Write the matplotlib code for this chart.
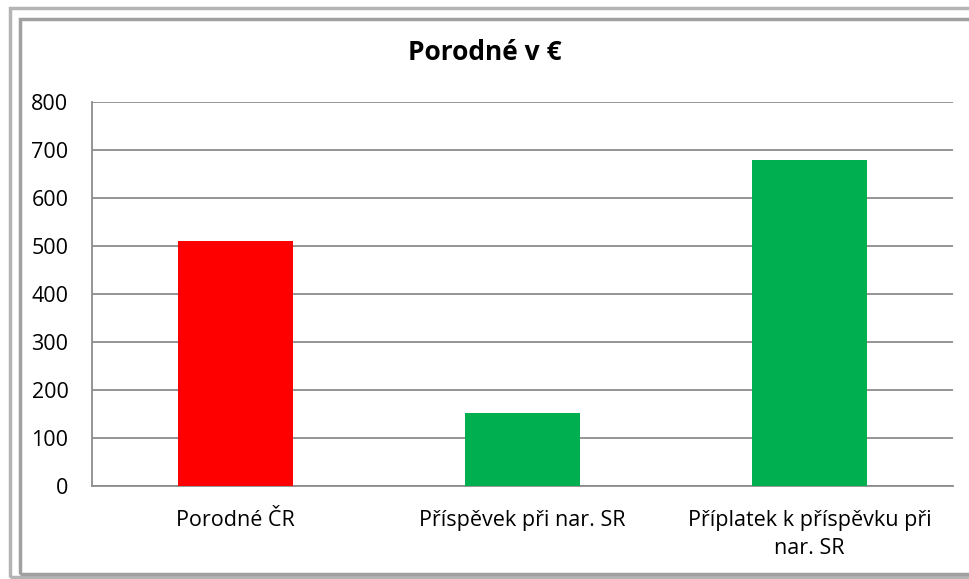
import matplotlib
matplotlib.use("Agg")
import matplotlib.pyplot as plt
from matplotlib.patches import Rectangle

categories = ["Porodné ČR", "Příspěvek při nar. SR", "Příplatek k příspěvku při\nnar. SR"]
values = [510, 152, 679]
colors = ["#ff0000", "#00b050", "#00b050"]
yticks = [0, 100, 200, 300, 400, 500, 600, 700, 800]

W, H = 970, 579
fig = plt.figure(figsize=(W / 100, H / 100), dpi=100)
plt.rcParams['font.family'] = ['Open Sans', 'DejaVu Sans']

def fx(x): return x / W
def fy(y): return 1 - y / H

# frame (beveled border)
fig.patches.append(Rectangle((fx(10), fy(577)), fx(980) - fx(10), fy(8) - fy(577),
                             transform=fig.transFigure, fill=False, ec="#b4b4b4", lw=2.5))
fig.patches.append(Rectangle((fx(20), fy(574)), fx(990) - fx(20), fy(19) - fy(574),
                             transform=fig.transFigure, fill=False, ec="#a0a0a0", lw=2.5))

ax = fig.add_axes([fx(92), fy(486), fx(953) - fx(92), fy(102) - fy(486)])
x = range(len(categories))
ax.bar(x, values, width=0.4, color=colors, zorder=3)
ax.set_xlim(-0.5, 2.5)
ax.set_ylim(0, 800)
ax.set_yticks(yticks)
ax.set_yticklabels([str(v) for v in yticks], fontsize=15.5)
ax.set_xticks(list(x))
ax.set_xticklabels(categories, fontsize=15.5, linespacing=1.45)
ax.tick_params(axis='x', length=0, pad=17)
ax.tick_params(axis='y', length=0, pad=17)
ax.yaxis.grid(True, color="#8c8c8c", lw=1.3, zorder=0)
for s in ["top", "right"]:
    ax.spines[s].set_visible(False)
for s in ["left", "bottom"]:
    ax.spines[s].set_color("#8c8c8c")
    ax.spines[s].set_linewidth(1.3)

fig.text(fx(485), fy(52), "Porodné v €", ha="center", va="center", fontsize=19, fontweight="bold")

fig.savefig("out.png", dpi=100)
